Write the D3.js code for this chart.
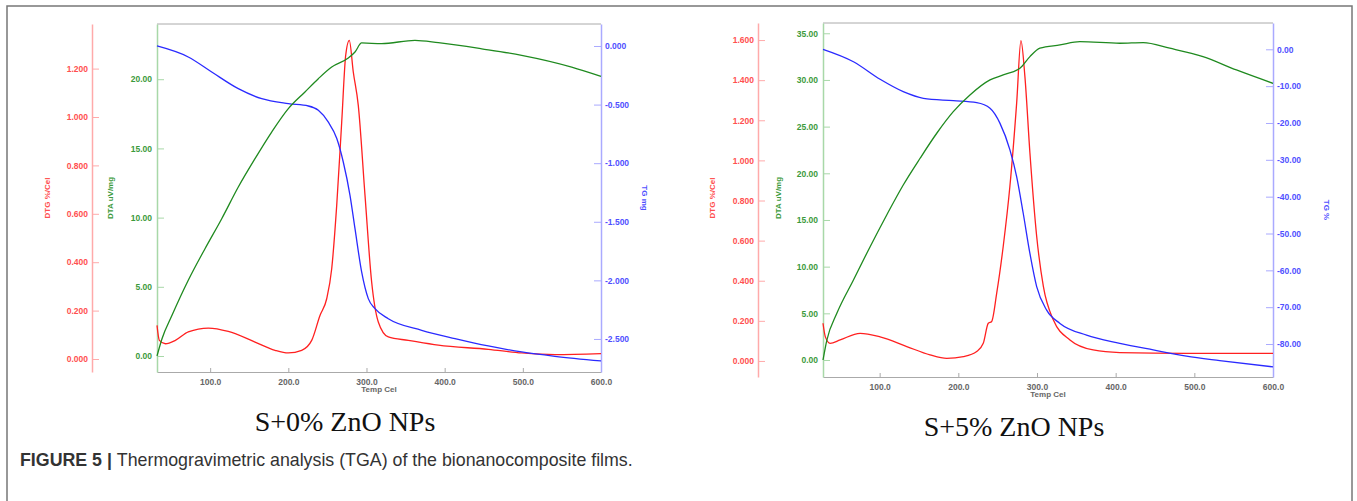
<!DOCTYPE html>
<html>
<head>
<meta charset="utf-8">
<style>
    body { margin: 0; background: #fff; }
    svg { display: block; }
    .tick text { font-family: 'Liberation Sans', Arial, sans-serif; font-size: 8.5px; font-weight: bold; }
    .ttl { font-family: 'Liberation Sans', Arial, sans-serif; font-size: 8px; font-weight: bold; }
</style>
</head>
<body>
<svg width="1357" height="501"></svg>

<script src="https://d3js.org/d3.v7.min.js"></script>
<script>
    // ---- data: [temp (Cel), value] ----
    // S+0% ZnO
    let s0Dtg = [[32,0.139],[35,0.077],[42.7,0.063],[55.5,0.077],[72,0.112],[97.8,0.128],[123.2,0.114],[157.4,0.07],
        [183,0.036],[200,0.025],[217.1,0.036],[229.9,0.077],[240.5,0.18],[249.1,0.249],[255.5,0.373],[261.9,0.635],
        [268.3,0.979],[273.4,1.255],[278,1.317],[283.1,1.186],[289.5,1.048],[298.1,0.676],[306.6,0.318],[315.1,0.153],
        [327.9,0.091],[353.5,0.077],[391.9,0.057],[455.8,0.04],[498.5,0.025],[541,0.018],[600,0.022]]
    let s0Dta = [[32,0.0],[38.4,1.25],[51.2,2.94],[72,5.47],[93.4,7.75],[114.8,9.92],[136,12.21],[157.4,14.26],
        [178.7,16.18],[200,17.87],[221.3,19.08],[238.4,20.04],[255.5,20.88],[276.7,21.53],[285.3,21.97],[293.8,22.62],
        [319.4,22.57],[362,22.81],[391.9,22.64],[447.4,22.2],[498.5,21.73],[562.5,20.88],[600,20.21]]
    let s0Tg = [[32,0.0],[72,-0.094],[102,-0.222],[136,-0.364],[166,-0.45],[200,-0.492],[225.6,-0.512],[238.4,-0.549],
        [251,-0.648],[262,-0.79],[270.3,-0.99],[278.9,-1.274],[285.3,-1.559],[293.8,-1.928],[302.3,-2.156],[310.9,-2.241],
        [327.9,-2.327],[370.6,-2.426],[413.2,-2.497],[455.8,-2.56],[498.5,-2.611],[541,-2.648],[600,-2.688]]

    // S+5% ZnO
    let s5Dtg = [[28,0.188],[31,0.12],[37,0.088],[49.8,0.105],[75.2,0.138],[100.6,0.12],[134.5,0.072],[164,0.03],
        [185.3,0.013],[206.5,0.022],[223.4,0.047],[231.7,0.088],[238.1,0.188],[242.4,0.197],[248.8,0.338],[257.1,0.572],
        [265.6,0.872],[274.2,1.288],[279.6,1.597],[284.6,1.42],[291,1.038],[299.6,0.622],[308.1,0.372],[320.7,0.205],
        [341.9,0.105],[371.4,0.055],[405.3,0.042],[490,0.038],[600,0.038]]
    let s5Dta = [[28,0.0],[32.9,2.14],[45.6,5.0],[66.7,8.57],[87.9,12.14],[109,15.54],[130,18.75],[151.4,21.61],
        [172.6,24.29],[193.6,26.6],[214.8,28.39],[240.3,30.0],[257.1,30.54],[278.3,31.25],[291,32.5],[303.7,33.4],
        [329.2,33.75],[354.5,34.1],[405.3,33.93],[435,34.0],[468.8,33.4],[511,32.5],[553.5,31.07],[600,29.64]]
    let s5Tg = [[28,0.0],[66.7,-3.37],[100.6,-8.14],[130,-11.5],[155.6,-13.3],[193.6,-13.95],[223.4,-14.5],[240.3,-16.0],
        [253,-20.1],[265.6,-27.3],[274.2,-34.6],[282.5,-44.5],[291,-55.4],[299.6,-64.4],[312.3,-70.8],[329.2,-74.4],
        [363,-77.6],[405.3,-79.8],[447.7,-81.6],[490,-83.3],[532.3,-84.5],[600,-86.2]]

    let tempTicks = [100, 200, 300, 400, 500, 600]
    let s0DtgTicks = [0, 0.2, 0.4, 0.6, 0.8, 1.0, 1.2]
    let s0DtaTicks = [0, 5, 10, 15, 20]
    let s0TgTicks = [0, -0.5, -1.0, -1.5, -2.0, -2.5]
    let s5DtgTicks = [0, 0.2, 0.4, 0.6, 0.8, 1.0, 1.2, 1.4, 1.6]
    let s5DtaTicks = [0, 5, 10, 15, 20, 25, 30, 35]
    let s5TgTicks = [0, -10, -20, -30, -40, -50, -60, -70, -80]

    let svg = d3.select("svg")

    // outer frame
    svg.append("rect")
        .attr("x", 7).attr("y", 6).attr("width", 1345).attr("height", 520)
        .style("fill", "none").style("stroke", "#777").style("stroke-width", 1.5)

    let fmt = (f) => (d) => d3.format(f)(d).replace("\u2212", "-")

    function drawPanel(p) {
        let g = svg.append("g")

        let x = d3.scaleLinear().domain(p.xDom).range([p.left, p.right])
        let yR = d3.scaleLinear().domain(p.redDom).range([p.bottom, p.top])
        let yG = d3.scaleLinear().domain(p.greenDom).range([p.bottom, p.top])
        let yB = d3.scaleLinear().domain(p.blueDom).range([p.bottom, p.top])

        // grey top frame of the plot
        g.append("line").attr("x1", p.left).attr("x2", p.right).attr("y1", p.top).attr("y2", p.top)
            .style("stroke", "#aaa").style("stroke-width", 1)

        // x axis
        let xa = g.append("g").attr("transform", `translate(0,${p.bottom})`)
            .call(d3.axisBottom(x).tickValues(tempTicks).tickFormat(d3.format(".1f")).tickSizeInner(-4).tickSizeOuter(0).tickPadding(7))
        xa.select(".domain").style("stroke", "#aaa")
        xa.selectAll(".tick line").style("stroke", "#aaa")
        xa.selectAll(".tick text").style("fill", "#666")
        g.append("text").attr("class", "ttl").attr("x", (p.left + p.right) / 2).attr("y", p.bottom + p.tempDy)
            .attr("text-anchor", "middle").style("fill", "#666").text("Temp Cel")

        function yAxis(axis, xpos, light, dark) {
            let a = g.append("g").attr("transform", `translate(${xpos},0)`).call(axis)
            a.select(".domain").style("stroke", light).style("stroke-width", 1.5)
            a.selectAll(".tick line").style("stroke", light)
            a.selectAll(".tick text").style("fill", dark)
        }

        yAxis(d3.axisLeft(yR).tickValues(p.redTicks).tickFormat(fmt(".3f")).tickSizeInner(-7).tickSizeOuter(0).tickPadding(4),
            p.redX, "#ffaaaa", "#ff5050")
        yAxis(d3.axisLeft(yG).tickValues(p.greenTicks).tickFormat(fmt(".2f")).tickSizeInner(-7).tickSizeOuter(0).tickPadding(5),
            p.left, "#a8d8a8", "#3c9a3c")
        yAxis(d3.axisRight(yB).tickValues(p.blueTicks).tickFormat(fmt(p.blueFmt)).tickSizeInner(-7).tickSizeOuter(0).tickPadding(4),
            p.right, "#aaaaff", "#5050ff")

        function vTitle(tx, ty, rot, col, txt) {
            g.append("text").attr("class", "ttl")
                .attr("transform", `translate(${tx},${ty}) rotate(${rot})`)
                .attr("text-anchor", "middle").attr("dy", "0.35em")
                .style("fill", col).text(txt)
        }
        vTitle(p.redTitleX, 198, -90, "#ff5050", "DTG %/Cel")
        vTitle(p.greenTitleX, 198, -90, "#3c9a3c", "DTA uV/mg")
        vTitle(p.blueTitleX, p.blueTitleY, 90, "#5050ff", p.blueTitle)

        function curve(data, y, col) {
            g.append("path")
                .datum(data)
                .attr("d", d3.line().x(d => x(d[0])).y(d => y(d[1])).curve(d3.curveMonotoneX))
                .style("fill", "none").style("stroke", col).style("stroke-width", 1.3)
        }
        curve(p.dtg, yR, "#ff2020")
        curve(p.tg, yB, "#2a2aff")
        curve(p.dta, yG, "#1f8a1f")

        // caption under panel
        g.append("text")
            .attr("x", p.capX).attr("y", p.capY)
            .attr("text-anchor", "middle")
            .style("font-family", "'Liberation Serif', 'Times New Roman', serif")
            .style("font-size", "28px").style("fill", "#111")
            .text(p.caption)
    }

    drawPanel({
        left: 157, right: 601, top: 24, bottom: 372, redX: 92,
        xDom: [32, 600],
        redDom: [-0.0537, 1.3843], greenDom: [-1.156, 23.99], blueDom: [-2.782, 0.1877],
        redTicks: s0DtgTicks, greenTicks: s0DtaTicks, blueTicks: s0TgTicks, blueFmt: ".3f",
        redTitleX: 47, greenTitleX: 110, blueTitleX: 645, blueTitleY: 198, blueTitle: "TG mg",
        dtg: s0Dtg, dta: s0Dta, tg: s0Tg, tempDy: 20,
        caption: "S+0% ZnO NPs", capX: 345, capY: 431
    })

    drawPanel({
        left: 823, right: 1273, top: 23, bottom: 377, redX: 758,
        xDom: [28, 600],
        redDom: [-0.08, 1.685], greenDom: [-1.82, 36.1], blueDom: [-88.95, 7.14],
        redTicks: s5DtgTicks, greenTicks: s5DtaTicks, blueTicks: s5TgTicks, blueFmt: ".2f",
        redTitleX: 712, greenTitleX: 778, blueTitleX: 1327, blueTitleY: 210, blueTitle: "TG %",
        dtg: s5Dtg, dta: s5Dta, tg: s5Tg, tempDy: 20,
        caption: "S+5% ZnO NPs", capX: 1014, capY: 436
    })

    // figure caption
    let cap = svg.append("text")
        .attr("x", 20).attr("y", 466)
        .style("font-family", "'Liberation Sans', Arial, sans-serif")
        .style("font-size", "17.8px").style("fill", "#333")
    cap.append("tspan").style("font-weight", "bold").text("FIGURE 5 | ")
    cap.append("tspan").text("Thermogravimetric analysis (TGA) of the bionanocomposite films.")
</script>
</body>
</html>
